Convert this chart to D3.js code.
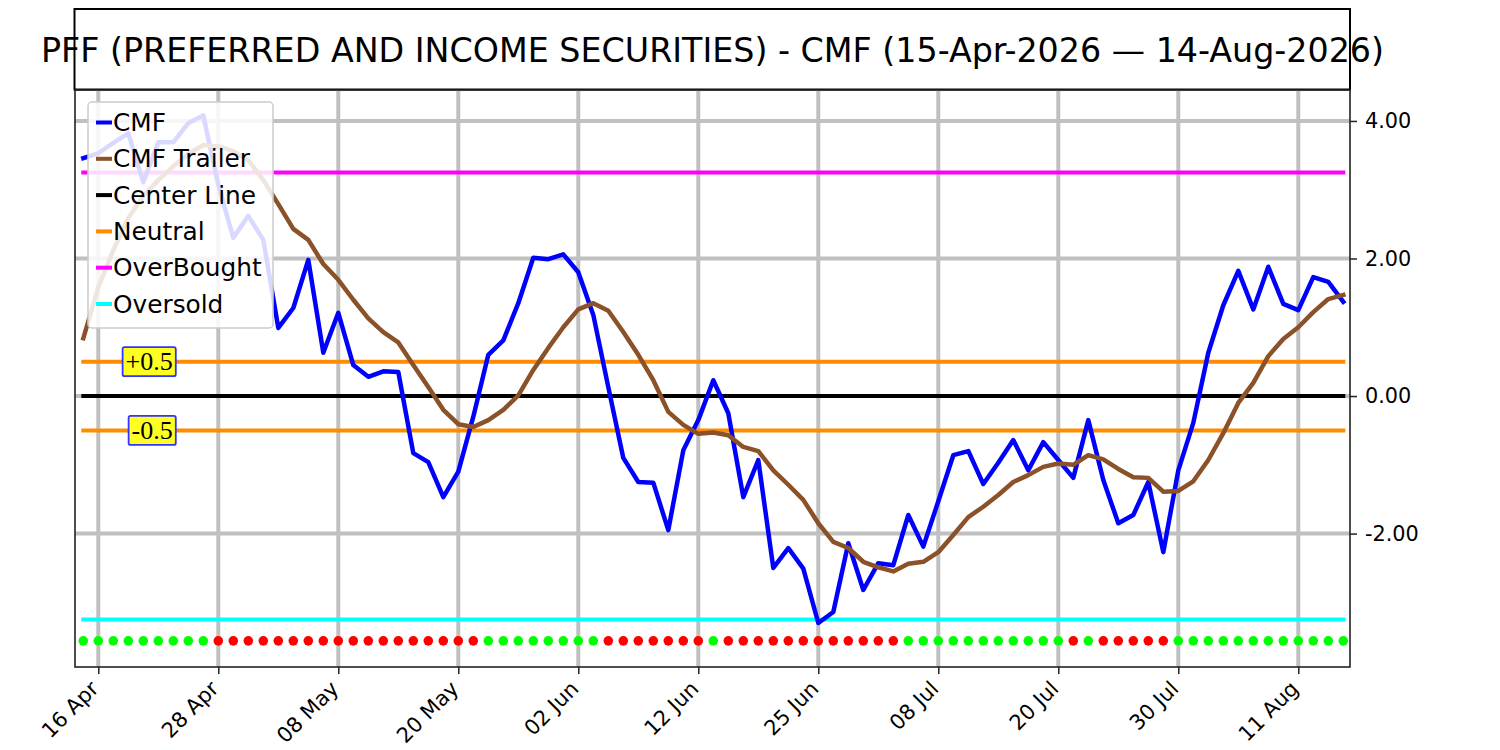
<!DOCTYPE html>
<html>
<head>
<meta charset="utf-8">
<script src="https://cdn.jsdelivr.net/npm/d3@7"></script>
<style>
  body { margin: 0; background: #fff; }
  svg { font-family: "DejaVu Sans", sans-serif; }
</style>
</head>
<body>
<div id="chart"></div>
<script>
// trading days shown on the x axis (index based, no gaps)
const dates = [
  "2026-04-15","2026-04-16","2026-04-17","2026-04-20","2026-04-21","2026-04-22","2026-04-23","2026-04-24","2026-04-27","2026-04-28","2026-04-29","2026-04-30",
  "2026-05-01","2026-05-04","2026-05-05","2026-05-06","2026-05-07","2026-05-08","2026-05-11","2026-05-12","2026-05-13","2026-05-14","2026-05-15","2026-05-18","2026-05-19","2026-05-20","2026-05-21","2026-05-22","2026-05-26","2026-05-27","2026-05-28","2026-05-29",
  "2026-06-01","2026-06-02","2026-06-03","2026-06-04","2026-06-05","2026-06-08","2026-06-09","2026-06-10","2026-06-11","2026-06-12","2026-06-15","2026-06-16","2026-06-17","2026-06-18","2026-06-22","2026-06-23","2026-06-24","2026-06-25","2026-06-26","2026-06-29","2026-06-30",
  "2026-07-01","2026-07-02","2026-07-06","2026-07-07","2026-07-08","2026-07-09","2026-07-10","2026-07-13","2026-07-14","2026-07-15","2026-07-16","2026-07-17","2026-07-20","2026-07-21","2026-07-22","2026-07-23","2026-07-24","2026-07-27","2026-07-28","2026-07-29","2026-07-30","2026-07-31",
  "2026-08-03","2026-08-04","2026-08-05","2026-08-06","2026-08-07","2026-08-10","2026-08-11","2026-08-12","2026-08-13","2026-08-14"
];

const cmf = [
  3.46, 3.53, 3.68, 3.82, 3.11, 3.69, 3.69, 3.97, 4.08, 3.07,
  2.30, 2.62, 2.27, 0.99, 1.28, 1.98, 0.63, 1.21, 0.45, 0.28,
  0.36, 0.35, -0.83, -0.96, -1.47, -1.10, -0.30, 0.60, 0.81, 1.35,
  2.01, 1.99, 2.06, 1.80, 1.18, 0.13, -0.90, -1.25, -1.26, -1.95,
  -0.79, -0.35, 0.23, -0.25, -1.47, -0.93, -2.50, -2.21, -2.51, -3.30,
  -3.14, -2.14, -2.82, -2.43, -2.46, -1.73, -2.19, -1.53, -0.86, -0.80,
  -1.28, -0.97, -0.64, -1.08, -0.67, -0.93, -1.19, -0.35, -1.22, -1.85,
  -1.73, -1.25, -2.27, -1.08, -0.39, 0.63, 1.32, 1.82, 1.26, 1.88,
  1.34, 1.25, 1.73, 1.66, 1.37
];

const cmfTrailer = [
  0.84, 1.58, 2.12, 2.59, 2.91, 3.14, 3.34, 3.52, 3.65, 3.63,
  3.56, 3.43, 3.14, 2.79, 2.43, 2.27, 1.92, 1.69, 1.40, 1.13,
  0.93, 0.78, 0.45, 0.13, -0.20, -0.41, -0.45, -0.35, -0.20, 0.01,
  0.38, 0.70, 1.00, 1.26, 1.35, 1.24, 0.93, 0.60, 0.23, -0.23,
  -0.42, -0.55, -0.53, -0.57, -0.74, -0.80, -1.08, -1.29, -1.51, -1.85,
  -2.12, -2.21, -2.41, -2.49, -2.55, -2.44, -2.41, -2.27, -2.02, -1.76,
  -1.61, -1.44, -1.25, -1.15, -1.03, -0.98, -1.00, -0.86, -0.92, -1.06,
  -1.18, -1.19, -1.39, -1.38, -1.24, -0.93, -0.54, -0.10, 0.19, 0.58,
  0.83, 1.00, 1.22, 1.41, 1.47
];

// 1 = green dot, -1 = red dot
const signal = [
  1,1,1,1,1,1,1,1,1,
  -1,-1,-1,-1,-1,-1,-1,-1,-1,-1,-1,-1,-1,-1,-1,-1,-1,-1,
  1,1,1,1,1,1,1,1,
  -1,-1,-1,-1,-1,-1,-1,
  1,
  -1,-1,-1,-1,-1,-1,-1,-1,-1,-1,-1,-1,
  1,1,1,1,1,1,1,1,1,1,1,
  -1,
  1,
  -1,-1,-1,-1,-1,
  1,1,1,1,1,1,1,1,1,1,1,1
];

const centerLine = 0;
const neutralLevels = [0.5, -0.5];
const overBought = 3.25;
const overSold = -3.25;
const dotLevel = -3.56;

const yTicks = [4, 2, 0, -2];
const xTickIdx = [1, 9, 17, 25, 33, 41, 49, 57, 65, 73, 81];

const title = "PFF (PREFERRED AND INCOME SECURITIES) - CMF (15-Apr-2026 \u2014 14-Aug-2026)";

// layout
const W = 1500, H = 750;
const plot = {left: 75, right: 1350, top: 90, bottom: 667};

const svg = d3.select("#chart").append("svg")
  .attr("width", W).attr("height", H);

const parse = d3.timeParse("%Y-%m-%d");
const fmt = d3.timeFormat("%d %b");

const xScale = d3.scaleLinear()
  .domain([-0.553, 84.447])
  .range([plot.left, plot.right]);

const yScale = d3.scaleLinear()
  .domain([-3.94, 4.45])
  .range([plot.bottom, plot.top]);

// title box
svg.append("rect")
  .attr("x", 74.5).attr("y", 9)
  .attr("width", plot.right - 74.5).attr("height", 80.5)
  .attr("fill", "none").attr("stroke", "#000").attr("stroke-width", 2);

svg.append("text")
  .attr("x", (plot.left + plot.right) / 2)
  .attr("y", 62)
  .attr("text-anchor", "middle")
  .attr("font-size", 33.3)
  .attr("fill", "#000")
  .text(title);

// grid
const grid = svg.append("g").attr("stroke", "#c0c0c0").attr("stroke-width", 4);
grid.selectAll(".vg").data(xTickIdx).enter().append("line")
  .attr("x1", d => xScale(d)).attr("x2", d => xScale(d))
  .attr("y1", plot.top).attr("y2", plot.bottom);
grid.selectAll(".hg").data(yTicks).enter().append("line")
  .attr("x1", plot.left).attr("x2", plot.right)
  .attr("y1", d => yScale(d)).attr("y2", d => yScale(d));

// level lines
function hline(v, color) {
  svg.append("line")
    .attr("x1", xScale(0)).attr("x2", xScale(dates.length - 1))
    .attr("y1", yScale(v)).attr("y2", yScale(v))
    .attr("stroke", color).attr("stroke-width", 4)
    .attr("stroke-linecap", "square");
}
hline(overBought, "#ff00ff");
hline(overSold, "#00ffff");
neutralLevels.forEach(v => hline(v, "#ff8c00"));
hline(centerLine, "#000000");

// CMF + trailer
const line = d3.line().x((d, i) => xScale(i)).y(d => yScale(d));

svg.append("path").datum(cmf)
  .attr("d", line)
  .attr("fill", "none").attr("stroke", "#0000ff").attr("stroke-width", 4.5)
  .attr("stroke-linejoin", "round").attr("stroke-linecap", "square");

svg.append("path").datum(cmfTrailer)
  .attr("d", line)
  .attr("fill", "none").attr("stroke", "#8b5128").attr("stroke-width", 4.5)
  .attr("stroke-linejoin", "round").attr("stroke-linecap", "square");

// signal dots
svg.selectAll(".dot").data(signal).enter().append("circle")
  .attr("cx", (d, i) => xScale(i))
  .attr("cy", yScale(dotLevel))
  .attr("r", 4.8)
  .attr("fill", d => d > 0 ? "#00ff00" : "#ff0000");

// +0.5 / -0.5 labels
neutralLevels.forEach(v => {
  const g = svg.append("g");
  const t = g.append("text")
    .attr("x", xScale(6) - 0.5)
    .attr("y", yScale(v))
    .attr("text-anchor", "end")
    .attr("dominant-baseline", "central")
    .attr("font-family", "Liberation Serif, serif")
    .attr("font-size", 26)
    .attr("fill", "#000")
    .text(v > 0 ? "+0.5" : "-0.5");
  const b = t.node().getBBox();
  g.insert("rect", "text")
    .attr("x", b.x - 3).attr("y", yScale(v) - 14.5)
    .attr("width", b.width + 6).attr("height", 29)
    .attr("rx", 2)
    .attr("fill", "#ffff22")
    .attr("stroke", "#3333ff").attr("stroke-width", 1.8);
});

// legend
const legendItems = [
  {name: "CMF", color: "#0000ff"},
  {name: "CMF Trailer", color: "#8b5128"},
  {name: "Center Line", color: "#000000"},
  {name: "Neutral", color: "#ff8c00"},
  {name: "OverBought", color: "#ff00ff"},
  {name: "Oversold", color: "#00ffff"}
];
const lg = svg.append("g");
lg.append("rect")
  .attr("x", 88).attr("y", 102)
  .attr("width", 185).attr("height", 226)
  .attr("rx", 4)
  .attr("fill", "#fff").attr("fill-opacity", 0.85)
  .attr("stroke", "#cccccc").attr("stroke-width", 1.5);
legendItems.forEach((d, i) => {
  const y = 122.5 + i * 36.3;
  lg.append("line")
    .attr("x1", 96).attr("x2", 112)
    .attr("y1", y).attr("y2", y)
    .attr("stroke", d.color).attr("stroke-width", 4);
  lg.append("text")
    .attr("x", 113).attr("y", y)
    .attr("dominant-baseline", "central")
    .attr("font-size", 24.8)
    .attr("fill", "#000")
    .text(d.name);
});

// frame
svg.append("rect")
  .attr("x", plot.left).attr("y", plot.top)
  .attr("width", plot.right - plot.left).attr("height", plot.bottom - plot.top)
  .attr("fill", "none").attr("stroke", "#222").attr("stroke-width", 1.6);

// axes
const yAxis = d3.axisRight(yScale)
  .tickValues(yTicks)
  .tickFormat(d => d.toFixed(2))
  .tickSize(7).tickSizeOuter(0).tickPadding(8);

const gy = svg.append("g")
  .attr("transform", `translate(${plot.right},0)`)
  .call(yAxis);
gy.select(".domain").remove();
gy.selectAll("line").attr("stroke", "#222").attr("stroke-width", 1.5);
gy.selectAll("text")
  .attr("font-size", 20.8)
  .attr("font-family", "DejaVu Sans")
  .attr("fill", "#000");

const xAxis = d3.axisBottom(xScale)
  .tickValues(xTickIdx)
  .tickFormat(i => fmt(parse(dates[i])))
  .tickSize(7).tickSizeOuter(0);

const gx = svg.append("g")
  .attr("transform", `translate(0,${plot.bottom})`)
  .call(xAxis);
gx.select(".domain").remove();
gx.selectAll("line").attr("stroke", "#222").attr("stroke-width", 1.5);
gx.selectAll("text")
  .attr("font-size", 21)
  .attr("font-family", "DejaVu Sans")
  .attr("fill", "#000")
  .attr("text-anchor", "end")
  .attr("y", 0).attr("dy", 0)
  .attr("transform", "translate(1,23) rotate(-45)");
</script>
</body>
</html>
